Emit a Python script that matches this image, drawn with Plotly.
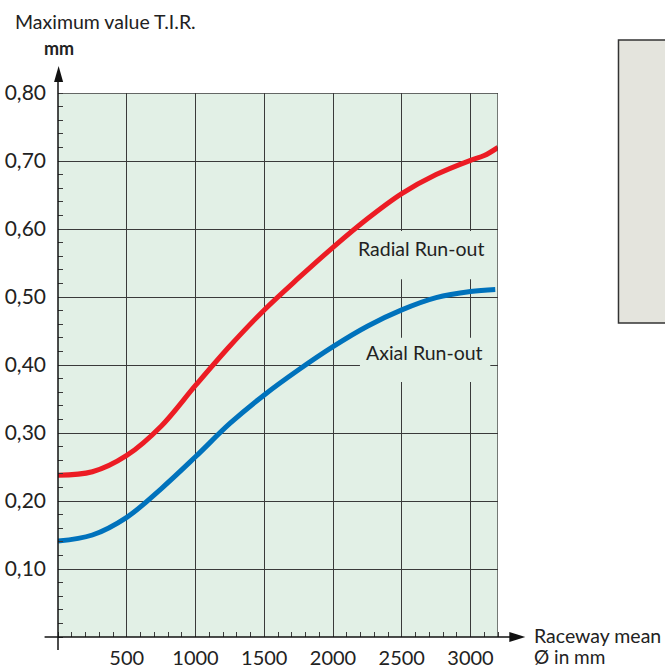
import plotly.graph_objects as go

# ---- data ----
radial_x = [0, 250, 500, 750, 1000, 1250, 1500, 1750, 2000, 2250, 2500, 2750, 3000, 3100, 3200]
radial_y = [0.238, 0.243, 0.267, 0.310, 0.370, 0.428, 0.481, 0.528, 0.573, 0.615, 0.652,
            0.680, 0.701, 0.708, 0.720]
axial_x = [0, 250, 500, 750, 1000, 1250, 1500, 1750, 2000, 2250, 2500, 2750, 3000, 3180]
axial_y = [0.141, 0.150, 0.176, 0.218, 0.265, 0.314, 0.356, 0.393, 0.427, 0.457, 0.481,
           0.499, 0.508, 0.511]

x_tickvals = [500, 1000, 1500, 2000, 2500, 3000]
x_ticktext = ["500", "1000", "1500", "2000", "2500", "3000"]
y_tickvals = [0.1, 0.2, 0.3, 0.4, 0.5, 0.6, 0.7, 0.8]
y_ticktext = ["0,10", "0,20", "0,30", "0,40", "0,50", "0,60", "0,70", "0,80"]

FONT = "Lato"
TXT = "#222222"
BG = "#e2f0e6"
GRID = "#3a3a3a"

fig = go.Figure()
fig.add_trace(go.Scatter(x=radial_x, y=radial_y, mode="lines",
                         line=dict(color="#ec1c24", width=5, shape="spline", smoothing=1.0),
                         hoverinfo="skip", showlegend=False))
fig.add_trace(go.Scatter(x=axial_x, y=axial_y, mode="lines",
                         line=dict(color="#0072bc", width=5, shape="spline", smoothing=1.0),
                         hoverinfo="skip", showlegend=False))

W, H = 665, 668
L, R, T, B = 58.4, 665 - 497.7, 93, 668 - 637

fig.update_layout(
    width=W, height=H,
    margin=dict(l=L, r=R, t=T, b=B, pad=0, autoexpand=False),
    paper_bgcolor="white", plot_bgcolor=BG,
    font=dict(family=FONT, size=20, color=TXT),
    showlegend=False,
)
fig.update_xaxes(range=[0, 3200], tickvals=x_tickvals, ticktext=x_ticktext, automargin=False,
                 showgrid=True, gridcolor=GRID, gridwidth=1.3, zeroline=False,
                 showline=False, ticks="", ticklabelstandoff=7,
                 minor=dict(dtick=100, tick0=0, ticks="inside", ticklen=5,
                            tickcolor=GRID, tickwidth=1.2, showgrid=False),
                 tickfont=dict(family=FONT, size=20, color=TXT))
fig.update_yaxes(range=[0, 0.8], tickvals=y_tickvals, ticktext=y_ticktext, automargin=False,
                 showgrid=True, gridcolor=GRID, gridwidth=1.3, zeroline=False,
                 showline=False, ticks="", ticklabelstandoff=11,
                 minor=dict(dtick=0.02, tick0=0, ticks="inside", ticklen=5,
                            tickcolor=GRID, tickwidth=1.2, showgrid=False),
                 tickfont=dict(family=FONT, size=21, color=TXT))

PW = 497.7 - 58.4
PH = 637 - 93


def px(xp):
    return (xp - L) / PW


def py(yp):
    return (637 - yp) / PH


shapes = []
# label background boxes (cover gridlines, under traces)
shapes.append(dict(type="rect", xref="x", yref="y", x0=2138, x1=3144, y0=0.526, y1=0.597,
                   fillcolor=BG, line=dict(width=0), layer="between"))
shapes.append(dict(type="rect", xref="x", yref="y", x0=2196, x1=3144, y0=0.375, y1=0.440,
                   fillcolor=BG, line=dict(width=0), layer="between"))
# top and right frame
shapes.append(dict(type="line", xref="x", yref="y", x0=0, x1=3200, y0=0.8, y1=0.8,
                   line=dict(color=GRID, width=1.3), layer="above"))
shapes.append(dict(type="line", xref="x", yref="y", x0=3200, x1=3200, y0=0, y1=0.8,
                   line=dict(color=GRID, width=1.3), layer="above"))
# axes lines
shapes.append(dict(type="line", xref="paper", yref="paper", x0=px(45), x1=px(512), y0=0, y1=0,
                   line=dict(color="#111111", width=1.5), layer="above"))
shapes.append(dict(type="line", xref="paper", yref="paper", x0=0, x1=0, y0=py(650), y1=py(78),
                   line=dict(color="#111111", width=1.5), layer="above"))
# arrow heads
shapes.append(dict(type="path", xref="paper", yref="paper",
                   path=f"M {px(525)} {py(637)} L {px(509)} {py(632)} L {px(509)} {py(642)} Z",
                   fillcolor="#111111", line=dict(width=0), layer="above"))
shapes.append(dict(type="path", xref="paper", yref="paper",
                   path=f"M {px(59)} {py(66)} L {px(54.5)} {py(82)} L {px(63.5)} {py(82)} Z",
                   fillcolor="#111111", line=dict(width=0), layer="above"))
# grey box on the right
shapes.append(dict(type="rect", xref="paper", yref="paper", x0=px(618), x1=px(680),
                   y0=py(323), y1=py(40), fillcolor="#e4e4dd",
                   line=dict(color="#333333", width=1.5), layer="above"))
fig.update_layout(shapes=shapes)

ann = []
ann.append(dict(x=2641, y=0.572, xref="x", yref="y", text="Radial Run-out", showarrow=False,
                font=dict(family=FONT, size=19.5, color=TXT), xanchor="center", yanchor="middle"))
ann.append(dict(x=2666, y=0.419, xref="x", yref="y", text="Axial Run-out", showarrow=False,
                font=dict(family=FONT, size=19.5, color=TXT), xanchor="center", yanchor="middle"))
ann.append(dict(x=px(13), y=py(22), xref="paper", yref="paper", text="Maximum value T.I.R.",
                showarrow=False, font=dict(family=FONT, size=19.5, color=TXT),
                xanchor="left", yanchor="middle"))
ann.append(dict(x=px(42), y=py(48), xref="paper", yref="paper", text="<b>mm</b>",
                showarrow=False, font=dict(family=FONT, size=18, color=TXT),
                xanchor="left", yanchor="middle"))
ann.append(dict(x=px(532), y=py(635), xref="paper", yref="paper", text="Raceway mean",
                showarrow=False, font=dict(family=FONT, size=19.5, color=TXT),
                xanchor="left", yanchor="middle"))
ann.append(dict(x=px(532), y=py(656), xref="paper", yref="paper", text="Ø in mm",
                showarrow=False, font=dict(family=FONT, size=19, color=TXT),
                xanchor="left", yanchor="middle"))
fig.update_layout(annotations=ann)

fig.write_html("out.html", config={"displayModeBar": False},
               post_script="document.body.style.margin='0';document.body.style.padding='0';")
